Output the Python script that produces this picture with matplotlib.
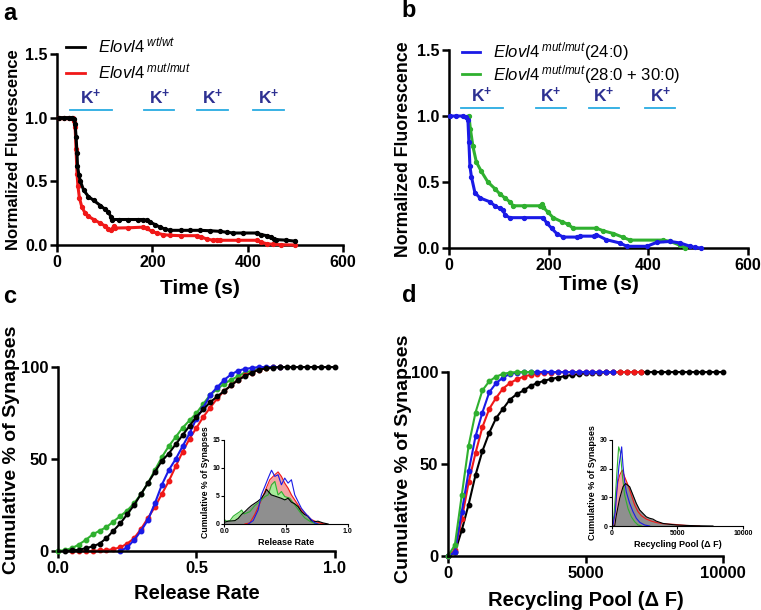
import matplotlib
matplotlib.use("Agg")
import matplotlib.pyplot as plt
from matplotlib.lines import Line2D

plt.rcParams['font.family'] = ['Liberation Sans', 'DejaVu Sans']
plt.rcParams['font.weight'] = 'bold'
plt.rcParams['axes.labelweight'] = 'bold'
plt.rcParams['mathtext.fontset'] = 'custom'
plt.rcParams['mathtext.it'] = 'Liberation Sans:style=italic:weight=normal'
plt.rcParams['mathtext.rm'] = 'Liberation Sans:weight=normal'
plt.rcParams['mathtext.bf'] = 'Liberation Sans:weight=bold'

RED = '#f01818'
BLUE = '#1a1ae6'
GREEN = '#2fb02f'
KTXT = '#2e3192'
KLINE = '#29abe2'

# --- panel a: destaining traces ---
wt_t = [5, 15, 25, 31, 36, 38, 40, 42, 43, 46, 49, 56, 66, 77, 91, 101, 108, 113, 115, 130,
        150, 170, 181, 188, 195, 206, 216, 227, 237, 260, 280, 300, 320, 342, 356, 370, 390,
        419, 429, 440, 450, 455, 460, 480, 499]
wt_f = [1.0, 1.0, 1.0, 1.0, 0.99, 0.95, 0.85, 0.72, 0.62, 0.55, 0.50, 0.43, 0.38, 0.35, 0.31,
        0.28, 0.26, 0.22, 0.20, 0.20, 0.20, 0.20, 0.20, 0.195, 0.18, 0.16, 0.14, 0.125, 0.115,
        0.115, 0.115, 0.115, 0.112, 0.107, 0.10, 0.094, 0.094, 0.094, 0.081, 0.073, 0.063,
        0.047, 0.042, 0.038, 0.03]
mut_t = [5, 15, 25, 33, 36, 38, 40, 42, 44, 47, 52, 59, 66, 77, 91, 101, 108, 114, 119, 122,
         150, 181, 188, 199, 209, 223, 237, 260, 293, 303, 314, 328, 335, 342, 380, 419, 429,
         440, 453, 470, 499]
mut_f = [1.0, 1.0, 1.0, 1.0, 0.97, 0.93, 0.75, 0.56, 0.46, 0.37, 0.30, 0.25, 0.225, 0.20, 0.17,
         0.15, 0.125, 0.12, 0.146, 0.133, 0.135, 0.14, 0.13, 0.107, 0.094, 0.081, 0.076, 0.073,
         0.073, 0.063, 0.047, 0.037, 0.042, 0.037, 0.037, 0.037, 0.021, 0.010, 0.005, 0.002, 0.0]
k_bars_a = [(26.5, 115), (183, 246), (294, 358), (412, 476)]

# --- panel b ---
c24_t = [2, 15, 28, 34, 38, 40, 42, 45, 52, 62, 82, 92, 102, 109, 112, 122, 150, 189, 196, 206,
         216, 229, 256, 263, 290, 296, 316, 343, 357, 397, 417, 444, 464, 484, 494, 505]
c24_f = [1.0, 1.0, 1.0, 0.99, 0.97, 0.80, 0.62, 0.54, 0.42, 0.38, 0.35, 0.32, 0.30, 0.29, 0.25,
         0.23, 0.23, 0.23, 0.19, 0.15, 0.11, 0.083, 0.083, 0.09, 0.09, 0.10, 0.063, 0.038, 0.013,
         0.013, 0.043, 0.05, 0.038, 0.013, 0.005, 0.0]
c28_t = [40, 43, 48, 55, 65, 78, 92, 102, 112, 122, 129, 150, 182, 186, 189, 199, 209, 226, 239,
         249, 296, 310, 330, 350, 363, 430, 444, 464, 474]
c28_f = [1.0, 0.90, 0.77, 0.65, 0.58, 0.50, 0.45, 0.41, 0.38, 0.35, 0.32, 0.32, 0.32, 0.33, 0.31,
         0.27, 0.23, 0.20, 0.18, 0.15, 0.15, 0.13, 0.11, 0.08, 0.06, 0.06, 0.05, 0.02, 0.0]
k_bars_b = [(23.5, 108.6), (174, 234), (281, 341), (393.5, 454.5)]

# --- panel c: cumulative release rate ---
rr_wt_x = [0.025, 0.05, 0.075, 0.1, 0.125, 0.15, 0.175, 0.2, 0.225, 0.25, 0.275, 0.3, 0.325, 0.35,
           0.375, 0.4, 0.425, 0.45, 0.475, 0.5, 0.525, 0.55, 0.575, 0.6, 0.625, 0.65, 0.675, 0.7,
           0.725, 0.75, 0.775, 0.8, 0.825, 0.85, 0.875, 0.9, 0.925, 0.95, 0.975, 1.0]
rr_wt_y = [0, 0.3, 0.7, 1.5, 2.5, 4, 7, 11, 15, 20, 25, 31, 37, 43, 49, 53, 58, 63, 68, 73, 77, 81,
           84, 87, 90, 93, 95, 97, 98.5, 99.3, 99.7, 100, 100, 100, 100, 100, 100, 100, 100, 100]
rr_mut_x = [0.05, 0.075, 0.1, 0.125, 0.15, 0.175, 0.2, 0.225, 0.25, 0.275, 0.3, 0.325, 0.35, 0.375,
            0.4, 0.425, 0.45, 0.475, 0.5, 0.525, 0.55, 0.575, 0.6, 0.625, 0.65, 0.675, 0.7, 0.725,
            0.75, 0.775, 0.8]
rr_mut_y = [0, 0, 0, 0, 0.3, 0.5, 1, 2, 4, 7, 12, 18, 24, 31, 38, 46, 54, 61, 67, 73, 78, 83, 87,
            90, 93, 95.5, 97, 98.5, 99.3, 100, 100]
rr_24_x = [0.225, 0.25, 0.275, 0.3, 0.325, 0.35, 0.375, 0.4, 0.425, 0.45, 0.475, 0.5, 0.525, 0.55,
           0.575, 0.6, 0.625, 0.65, 0.675, 0.7, 0.725, 0.75, 0.775, 0.8]
rr_24_y = [0, 2, 6, 11, 17, 26, 36, 44, 50, 57, 64, 72, 78, 85, 89, 93, 96, 98, 99, 99.5, 100, 100,
           100, 100]
rr_28_x = [0.0, 0.025, 0.05, 0.075, 0.1, 0.125, 0.15, 0.175, 0.2, 0.225, 0.25, 0.275, 0.3, 0.325,
           0.35, 0.375, 0.4, 0.425, 0.45, 0.475, 0.5, 0.525, 0.55, 0.575, 0.6, 0.625, 0.65, 0.675,
           0.7, 0.725, 0.75, 0.775, 0.8]
rr_28_y = [0, 0.5, 1.5, 3.5, 6, 9, 11, 13, 16, 19, 22, 26, 31, 37, 44, 51, 57, 62, 67, 71, 75, 80,
           85, 88, 91, 93, 95, 97, 98, 99, 99.5, 100, 100]

# inset c: release rate distributions
hr_wt_x = [0.0, 0.032, 0.086, 0.113, 0.14, 0.167, 0.194, 0.22, 0.247, 0.274, 0.30, 0.328, 0.341,
           0.38, 0.42, 0.46, 0.49, 0.516, 0.543, 0.57, 0.597, 0.624, 0.65, 0.677, 0.704, 0.73,
           0.758, 0.798, 0.84]
hr_wt_y = [0.3, 0.5, 0.6, 1.0, 1.7, 2.2, 2.8, 3.3, 3.7, 4.1, 4.6, 5.5, 6.2, 5.2, 4.9, 4.6, 4.3,
           4.6, 3.9, 3.6, 3.1, 2.2, 1.7, 1.4, 0.6, 0.4, 0.5, 0.2, 0.0]
hr_28_x = [0.0, 0.019, 0.046, 0.073, 0.099, 0.126, 0.14, 0.161, 0.207, 0.247, 0.288, 0.328, 0.355,
           0.382, 0.409, 0.435, 0.462, 0.489, 0.53, 0.57, 0.61, 0.65, 0.691, 0.731, 0.758]
hr_28_y = [0.8, 0.5, 0.6, 1.4, 1.8, 2.2, 2.5, 1.8, 2.2, 3.3, 4.0, 4.9, 5.2, 7.0, 7.6, 5.2, 5.8,
           4.9, 4.6, 3.4, 2.2, 1.1, 0.5, 0.1, 0.0]
hr_mut_x = [0.167, 0.207, 0.247, 0.288, 0.328, 0.368, 0.409, 0.435, 0.462, 0.489, 0.516, 0.543,
            0.57, 0.597, 0.624, 0.664, 0.704, 0.745, 0.785, 0.825]
hr_mut_y = [0, 0.2, 1.7, 3.7, 5.8, 7.9, 8.8, 9.3, 8.5, 7.3, 6.4, 5.2, 4.3, 3.4, 2.5, 1.7, 0.8, 0.4,
            0.1, 0]
hr_24_x = [0.194, 0.234, 0.274, 0.30, 0.328, 0.355, 0.382, 0.409, 0.435, 0.462, 0.489, 0.516,
           0.543, 0.57, 0.597, 0.624, 0.664, 0.704, 0.731, 0.758]
hr_24_y = [0, 0.6, 2.5, 5.2, 6.7, 8.2, 9.6, 8.5, 8.8, 7.0, 8.2, 7.3, 7.9, 5.2, 4.0, 2.8, 1.7, 0.8,
           0.2, 0]

# --- panel d: cumulative recycling pool ---
rp_wt_x = [0, 250, 500, 750, 1000, 1250, 1500, 1750, 2000, 2250, 2500, 2750, 3000, 3250, 3500,
           3750, 4000, 4250, 4500, 4750, 5000, 5250, 5500, 5750, 6000, 6250, 6500, 6750, 7000,
           7250, 7500, 7750, 8000, 8250, 8500, 8750, 9000, 9250, 9500, 9750, 10000]
rp_wt_y = [0, 2, 14, 28, 44, 57, 67, 75, 80, 85, 88, 90, 92.5, 94, 95.3, 96.2, 97, 97.8, 98.4,
           98.9, 99.3, 99.5, 99.7, 99.8, 99.9, 100, 100, 100, 100, 100, 100, 100, 100, 100, 100,
           100, 100, 100, 100, 100, 100]
rp_mut_x = [0, 250, 500, 750, 1000, 1250, 1500, 1750, 2000, 2250, 2500, 2750, 3000, 3250, 3500,
            3750, 4000, 4250, 4500, 4750, 5000, 5250, 5500, 5750, 6000, 6250, 6500, 6750, 7000]
rp_mut_y = [0, 3, 20, 40, 56, 70, 80, 86, 91, 94, 96, 97.5, 98.5, 99, 99.5, 99.7, 99.9, 100, 100,
            100, 100, 100, 100, 100, 100, 100, 100, 100, 100]
rp_24_x = [0, 250, 500, 750, 1000, 1250, 1500, 1750, 2000, 2250, 2500, 2750, 3000, 3250, 3500,
           3750, 4000, 4250, 4500, 4750, 5000, 5250, 5500, 5750, 6000]
rp_24_y = [0, 2, 24, 46, 65, 78, 89, 94, 97, 99, 99.7, 100, 100, 100, 100, 100, 100, 100, 100, 100,
           100, 100, 100, 100, 100]
rp_28_x = [0, 250, 500, 750, 1000, 1250, 1500, 1750, 2000, 2250, 2500, 2750, 3000]
rp_28_y = [0, 6, 33, 60, 78, 90, 95, 97.5, 99, 99.7, 100, 100, 100]

# inset d: recycling pool distributions
hp_wt_x = [0, 204, 331, 585, 840, 1043, 1349, 1603, 1857, 2112, 2366, 2621, 2875, 3130, 3384,
           3639, 3893, 4402, 4911, 5674, 6437, 7710]
hp_wt_y = [0, 0, 3.8, 9.6, 13.7, 14.8, 13.7, 10.8, 7.9, 5.6, 4.4, 3.2, 2.7, 2.4, 1.7, 1.3, 0.9,
           0.6, 0.35, 0.2, 0.1, 0]
hp_mut_x = [76, 204, 331, 458, 585, 712, 789, 967, 1221, 1476, 1730, 1985, 2239, 2621, 3003, 3384,
            3893, 4656, 5674, 6692]
hp_mut_y = [0.35, 3.8, 10.8, 15.4, 17.7, 18.9, 19.5, 17.1, 14.3, 10.8, 7.3, 5.0, 3.6, 2.4, 1.7,
            1.2, 0.8, 0.6, 0.2, 0]
hp_24_x = [76, 254, 382, 534, 738, 840, 967, 1094, 1349, 1603, 1857, 2112, 2494, 2875]
hp_24_y = [0.35, 5, 13, 21, 27.6, 21, 15.4, 11.9, 7.9, 5.0, 2.7, 1.3, 0.35, 0]
hp_28_x = [25, 153, 280, 407, 509, 636, 789, 967, 1221, 1476, 1730, 1985, 2239]
hp_28_y = [0.35, 3.8, 11.9, 21, 27.6, 25.8, 17.7, 10.8, 6.1, 3.2, 1.5, 0.35, 0]


def style(ax, lw=1.8, fs=11.5, tl=5, pad=2):
    ax.spines['top'].set_visible(False)
    ax.spines['right'].set_visible(False)
    for s in ('left', 'bottom'):
        ax.spines[s].set_linewidth(lw)
    ax.tick_params(width=lw, length=tl, labelsize=fs, direction='out', pad=pad)


def k_marks(ax, bars):
    for a, b in bars:
        ax.plot([a, b], [1.06, 1.06], color=KLINE, lw=1.3, clip_on=False)
        ax.text((a + b) / 2, 1.085, r'K$^{\mathbf{+}}$', color=KTXT, fontsize=12.5, ha='center',
                va='bottom', fontweight='bold')


def gene_legend(ax, colors, labels, anchor, spacing, hlen):
    hs = [Line2D([], [], color=c, lw=2) for c in colors]
    ax.legend(hs, labels, loc='upper left', bbox_to_anchor=anchor, frameon=False,
              prop={'weight': 'normal', 'size': 12}, handlelength=hlen, borderpad=0,
              labelspacing=spacing, handletextpad=0.8, borderaxespad=0)


fig = plt.figure(figsize=(7.61, 6.10), dpi=100)

# panel a
ax = fig.add_axes([0.0749, 0.5984, 0.3758, 0.3131])
ax.plot(mut_t, mut_f, color=RED, lw=2.2, marker='o', ms=2.8, clip_on=False, zorder=3)
ax.plot(wt_t, wt_f, color='black', lw=2.2, marker='o', ms=2.8, clip_on=False, zorder=4)
k_marks(ax, k_bars_a)
ax.set_xlim(0, 600)
ax.set_ylim(0, 1.5)
ax.set_xticks([0, 200, 400, 600])
ax.set_yticks([0, 0.5, 1.0, 1.5])
style(ax)
ax.set_xlabel('Time (s)', fontsize=15)
ax.set_ylabel('Normalized Fluorescence', fontsize=12)
ax.yaxis.set_label_coords(-0.126, 0.5)
ax.xaxis.set_label_coords(0.5, -0.18)
gene_legend(ax, ['black', RED],
            [r'$\mathit{Elovl4}^{\ \mathit{wt/wt}}$', r'$\mathit{Elovl4}^{\ \mathit{mut/mut}}$'],
            (0.03, 1.095), 0.35, 1.15)

# panel b
ax = fig.add_axes([0.590, 0.5934, 0.3929, 0.3246])
ax.plot(c28_t, c28_f, color=GREEN, lw=2.2, marker='o', ms=2.8, clip_on=False, zorder=3)
ax.plot(c24_t, c24_f, color=BLUE, lw=2.2, marker='o', ms=2.8, clip_on=False, zorder=4)
k_marks(ax, k_bars_b)
ax.set_xlim(0, 600)
ax.set_ylim(0, 1.5)
ax.set_xticks([0, 200, 400, 600])
ax.set_yticks([0, 0.5, 1.0, 1.5])
style(ax)
ax.set_xlabel('Time (s)', fontsize=15)
ax.set_ylabel('Normalized Fluorescence', fontsize=12.8)
ax.yaxis.set_label_coords(-0.124, 0.5)
ax.xaxis.set_label_coords(0.5, -0.135)
gene_legend(ax, [BLUE, GREEN],
            [r'$\mathit{Elovl4}^{\ \mathit{mut/mut}}$(24:0)',
             r'$\mathit{Elovl4}^{\ \mathit{mut/mut}}$(28:0 + 30:0)'],
            (0.045, 1.05), 0.0, 1.05)

# panel c
ax = fig.add_axes([0.0762, 0.0967, 0.364, 0.3016])
ax.plot(rr_28_x, rr_28_y, color=GREEN, lw=1.5, marker='o', ms=3.2, clip_on=False)
ax.plot(rr_mut_x, rr_mut_y, color=RED, lw=1.5, marker='o', ms=3.2, clip_on=False)
ax.plot(rr_24_x, rr_24_y, color=BLUE, lw=1.5, marker='o', ms=3.2, clip_on=False)
ax.plot(rr_wt_x, rr_wt_y, color='black', lw=1.5, marker='o', ms=3.2, clip_on=False)
ax.set_xlim(0, 1.0)
ax.set_ylim(0, 100)
ax.set_xticks([0, 0.5, 1.0])
ax.set_xticklabels(['0.0', '0.5', '1.0'])
ax.set_yticks([0, 50, 100])
style(ax, fs=12)
ax.set_xlabel('Release Rate', fontsize=14.5)
ax.set_ylabel('Cumulative % of Synapses', fontsize=14)
ax.yaxis.set_label_coords(-0.137, 0.55)
ax.xaxis.set_label_coords(0.5, -0.18)

ins = fig.add_axes([0.2947, 0.141, 0.1625, 0.1377])
ins.fill_between(hr_mut_x, hr_mut_y, color='#f4a3a3', lw=0)
ins.plot(hr_mut_x, hr_mut_y, color=RED, lw=0.8)
ins.fill_between(hr_28_x, hr_28_y, color='#a6ea9a', lw=0)
ins.plot(hr_28_x, hr_28_y, color=GREEN, lw=0.8)
ins.fill_between(hr_wt_x, hr_wt_y, color='#8f8f8f', lw=0)
ins.plot(hr_wt_x, hr_wt_y, color='black', lw=0.8)
ins.plot(hr_24_x, hr_24_y, color=BLUE, lw=0.8)
ins.set_xlim(0, 1.0)
ins.set_ylim(0, 15)
ins.set_xticks([0, 0.5, 1.0])
ins.set_xticklabels(['0.0', '0.5', '1.0'])
ins.set_yticks([0, 5, 10, 15])
style(ins, lw=0.8, fs=5, tl=2, pad=1)
ins.set_xlabel('Release Rate', fontsize=6.5, labelpad=2)
ins.set_ylabel('Cumulative % of Synapses', fontsize=6.3, labelpad=2)

# panel d
ax = fig.add_axes([0.5887, 0.0885, 0.3614, 0.3016])
ax.plot(rp_wt_x, rp_wt_y, color='black', lw=1.5, marker='o', ms=3.2, clip_on=False)
ax.plot(rp_mut_x, rp_mut_y, color=RED, lw=1.5, marker='o', ms=3.2, clip_on=False)
ax.plot(rp_24_x, rp_24_y, color=BLUE, lw=1.5, marker='o', ms=3.2, clip_on=False)
ax.plot(rp_28_x, rp_28_y, color=GREEN, lw=1.5, marker='o', ms=3.2, clip_on=False)
ax.set_xlim(0, 10000)
ax.set_ylim(0, 100)
ax.set_xticks([0, 5000, 10000])
ax.set_yticks([0, 50, 100])
style(ax, fs=12)
ax.set_xlabel('Recycling Pool (\u0394 F)', fontsize=14.5)
ax.set_ylabel('Cumulative % of Synapses', fontsize=14)
ax.yaxis.set_label_coords(-0.131, 0.53)
ax.xaxis.set_label_coords(0.5, -0.19)

ins = fig.add_axes([0.8042, 0.1377, 0.1721, 0.141])
ins.fill_between(hp_mut_x, hp_mut_y, color='#f4a3a3', lw=0)
ins.plot(hp_mut_x, hp_mut_y, color=RED, lw=0.8)
ins.fill_between(hp_wt_x, hp_wt_y, color='#8f8f8f', lw=0)
ins.plot(hp_28_x, hp_28_y, color=GREEN, lw=0.8)
ins.plot(hp_24_x, hp_24_y, color=BLUE, lw=0.8)
ins.plot(hp_wt_x, hp_wt_y, color='black', lw=0.8)
ins.set_xlim(0, 10000)
ins.set_ylim(0, 30)
ins.set_xticks([0, 5000, 10000])
ins.set_yticks([0, 10, 20, 30])
style(ins, lw=0.8, fs=5, tl=2, pad=1)
ins.set_xlabel('Recycling Pool (\u0394 F)', fontsize=6.5, labelpad=2)
ins.set_ylabel('Cumulative % of Synapses', fontsize=6.5, labelpad=2)

for txt, x, y in [('a', 0.004, 0.967), ('b', 0.528, 0.972), ('c', 0.004, 0.503), ('d', 0.528, 0.505)]:
    fig.text(x, y, txt, fontsize=17, fontweight='bold', va='baseline')

fig.savefig('out.png', dpi=100)
